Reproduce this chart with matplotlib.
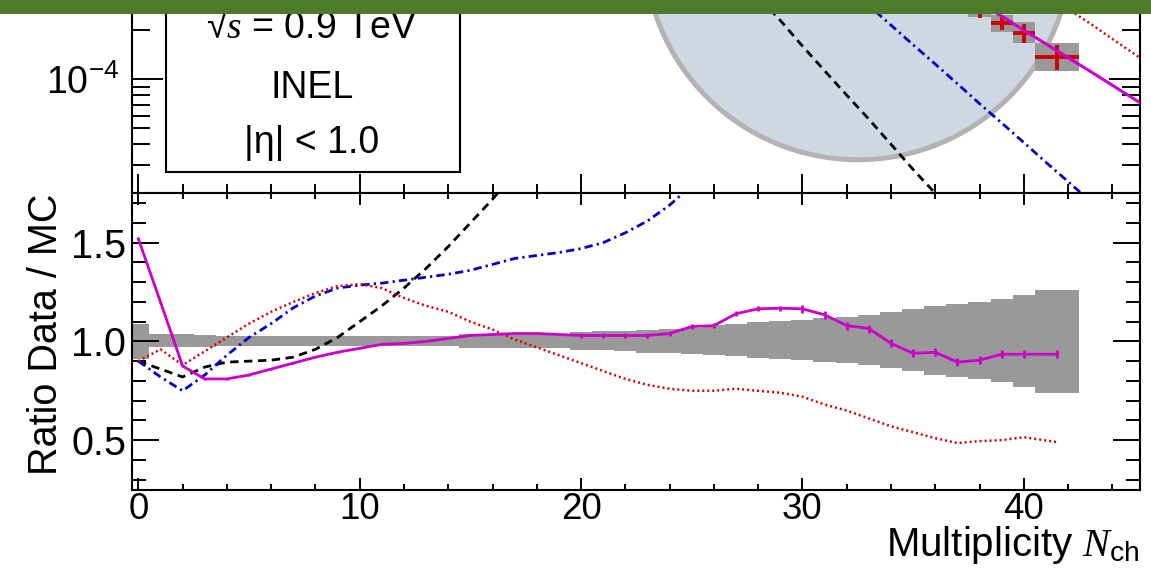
import numpy as np
import matplotlib.pyplot as plt
from matplotlib.patches import Rectangle, Circle
from matplotlib.transforms import IdentityTransform
from matplotlib.ticker import MultipleLocator, LogLocator, FixedLocator, FuncFormatter, NullFormatter

plt.rcParams['font.family'] = ['Liberation Sans', 'DejaVu Sans']
plt.rcParams['mathtext.fontset'] = 'custom'
plt.rcParams['mathtext.rm'] = 'Liberation Sans'
plt.rcParams['mathtext.sf'] = 'Liberation Sans'
plt.rcParams['mathtext.it'] = 'Liberation Serif:italic'

W, H = 1151, 574

# ---- upper panel: P(N_ch), log scale ----
data_n = [38, 39, 40, 41.5]
data_w = [1, 1, 1, 2]
data_val = [2.62e-4, 2.22e-4, 1.92e-4, 1.38e-4]
data_stat = [0.25e-4, 0.22e-4, 0.26e-4, 0.24e-4]
sys_lo = [2.42e-4, 1.96e-4, 1.66e-4, 1.13e-4]
sys_hi = [2.95e-4, 2.48e-4, 2.26e-4, 1.66e-4]

black_n = [27, 28, 29, 30, 31, 32, 33, 34, 35, 36, 37]
black_p = [4.5e-4, 3.2e-4, 2.3e-4, 1.6e-4, 1.13e-4, 8.0e-5, 5.7e-5, 4.0e-5, 2.8e-5, 2.0e-5, 1.4e-5]

blue_n = [31, 32, 33, 34, 35, 36, 37, 38, 39, 40, 41, 42, 43]
blue_p = [4.93e-4, 3.74e-4, 2.84e-4, 2.15e-4, 1.63e-4, 1.24e-4, 9.4e-5, 7.1e-5,
          5.4e-5, 4.1e-5, 3.1e-5, 2.36e-5, 1.79e-5]

red_n = [39, 40, 41, 42, 43, 44, 45, 46]
red_p = [5.2e-4, 4.2e-4, 3.4e-4, 2.7e-4, 2.2e-4, 1.77e-4, 1.43e-4, 1.15e-4]

mag_n = [36, 37, 38, 39, 40, 41, 42, 43, 44, 45, 46]
mag_p = [4.4e-4, 3.6e-4, 2.97e-4, 2.44e-4, 2.0e-4, 1.65e-4, 1.36e-4, 1.12e-4, 9.2e-5, 7.55e-5, 6.2e-5]

# ---- lower panel: ratio data / MC ----
ratio_n = list(range(41)) + [41.5]
ratio_w = [1] * 41 + [2]
band_hi = [1.09, 1.035, 1.035, 1.03, 1.025, 1.025, 1.025, 1.025, 1.025, 1.025,
           1.025, 1.025, 1.025, 1.025, 1.025, 1.038, 1.038, 1.038, 1.038, 1.038,
           1.05, 1.052, 1.055, 1.06, 1.065, 1.07, 1.085, 1.09, 1.098, 1.105,
           1.11, 1.117, 1.123, 1.135, 1.15, 1.165, 1.177, 1.19, 1.20, 1.217,
           1.233, 1.262]
band_lo = [0.91, 0.97, 0.97, 0.972, 0.975, 0.975, 0.975, 0.975, 0.975, 0.975,
           0.975, 0.975, 0.975, 0.975, 0.975, 0.965, 0.965, 0.965, 0.965, 0.965,
           0.955, 0.954, 0.952, 0.942, 0.94, 0.937, 0.93, 0.925, 0.918, 0.912,
           0.908, 0.898, 0.89, 0.878, 0.865, 0.848, 0.832, 0.82, 0.812, 0.793,
           0.77, 0.741]
ratio_mag = [1.52, 1.20, 0.875, 0.81, 0.81, 0.83, 0.86, 0.89, 0.92, 0.945,
             0.965, 0.985, 0.99, 1.0, 1.015, 1.03, 1.035, 1.04, 1.04, 1.035,
             1.03, 1.03, 1.03, 1.03, 1.04, 1.075, 1.08, 1.14, 1.165, 1.168,
             1.165, 1.135, 1.08, 1.065, 0.99, 0.94, 0.945, 0.895, 0.905, 0.935,
             0.935, 0.935]
ratio_err = [0.004] * 20 + [0.012] * 10 + [0.02] * 12
ratio_red = [0.90, 0.96, 0.88, 0.95, 1.02, 1.09, 1.15, 1.20, 1.245, 1.28,
             1.29, 1.27, 1.22, 1.18, 1.15, 1.10, 1.06, 1.01, 0.97, 0.93,
             0.89, 0.85, 0.81, 0.78, 0.76, 0.75, 0.75, 0.76, 0.75, 0.74,
             0.72, 0.68, 0.65, 0.61, 0.57, 0.54, 0.51, 0.485, 0.495, 0.50,
             0.515, 0.49]
black_r_n = list(range(18))
ratio_black = [0.90, 0.86, 0.82, 0.87, 0.895, 0.90, 0.905, 0.92, 0.96, 1.02,
               1.10, 1.18, 1.27, 1.37, 1.48, 1.60, 1.72, 1.85]
blue_r_n = list(range(26))
ratio_blue = [0.90, 0.82, 0.75, 0.83, 0.93, 1.02, 1.09, 1.17, 1.23, 1.27,
              1.285, 1.295, 1.31, 1.325, 1.34, 1.36, 1.39, 1.42, 1.435, 1.45,
              1.47, 1.50, 1.55, 1.61, 1.69, 1.79]

RED = '#dd0000'
BLUE = '#0000cc'
MAG = '#cc00cc'
GREY = '#999999'

fig = plt.figure(figsize=(W / 100, H / 100), dpi=100)
left = 131.7 / W
width = (1140 - 131.7) / W
ax_top = fig.add_axes([left, (H - 193.3) / H, width, (193.3 + 83.7) / H])
ax_bot = fig.add_axes([left, (H - 489.5) / H, width, (489.5 - 193.3) / H])

# upper panel
ax_top.set_yscale('log')
ax_top.set_xlim(-0.3, 45.25)
ax_top.set_ylim(2e-5, 1e-3)

circ = Circle((858, H + 53.75), 213.5, transform=IdentityTransform(),
              facecolor='#cfd8e2', edgecolor='#b3b3b3', lw=3.6, zorder=0.5)
ax_top.add_patch(circ)

ax_top.plot(black_n, black_p, color='black', lw=2, ls=(0, (3, 2)), zorder=2)
ax_top.plot(blue_n, blue_p, color=BLUE, lw=2, ls=(0, (3, 1.5, 0.8, 1.5)), zorder=2)
ax_top.plot(red_n, red_p, color=RED, lw=1.8, ls=(0, (0.8, 1.2)), zorder=2)
ax_top.bar(data_n, np.array(sys_hi) - np.array(sys_lo), bottom=sys_lo, width=data_w,
           color=GREY, lw=0, zorder=3)
ax_top.errorbar(data_n, data_val, xerr=np.array(data_w) / 2, yerr=data_stat, fmt='none',
                ecolor='#cc0000', elinewidth=2.8, capsize=0, zorder=4)
ax_top.plot(mag_n, mag_p, color=MAG, lw=2.2, zorder=5)

ax_top.add_patch(Rectangle((0.0337, 0.078), 0.3256 - 0.0337, 1.0, transform=ax_top.transAxes,
                           facecolor='white', edgecolor='black', lw=1.5, zorder=6))

ax_top.xaxis.set_major_locator(MultipleLocator(10))
ax_top.xaxis.set_minor_locator(MultipleLocator(2))
ax_top.xaxis.set_major_formatter(NullFormatter())
ax_top.yaxis.set_major_locator(FixedLocator([1e-4]))
ax_top.yaxis.set_minor_locator(LogLocator(base=10, subs=np.arange(2, 10)))
ax_top.yaxis.set_minor_formatter(NullFormatter())
ax_top.yaxis.set_major_formatter(FuncFormatter(lambda v, p: r'$\mathregular{10^{%d}}$' % round(np.log10(v))))
ax_top.tick_params(axis='x', which='major', direction='in', top=True, length=14, width=1.4)
ax_top.tick_params(axis='x', which='minor', direction='in', top=True, length=6.5, width=1.4)
ax_top.tick_params(axis='y', which='major', direction='in', right=True, length=22, width=1.4,
                   labelsize=27, pad=9)
ax_top.tick_params(axis='y', which='minor', direction='in', right=True, length=13, width=1.4)

# lower panel
ax_bot.set_xlim(-0.3, 45.25)
ax_bot.set_ylim(0.25, 1.75)
ax_bot.bar(ratio_n, np.array(band_hi) - np.array(band_lo), bottom=band_lo, width=ratio_w,
           color=GREY, lw=0, zorder=1)
ax_bot.plot(black_r_n, ratio_black, color='black', lw=2, ls=(0, (3, 2)), zorder=2)
ax_bot.plot(blue_r_n, ratio_blue, color=BLUE, lw=2, ls=(0, (3, 1.5, 0.8, 1.5)), zorder=2)
ax_bot.plot(ratio_n, ratio_red, color=RED, lw=1.8, ls=(0, (0.8, 1.2)), zorder=2)
ax_bot.errorbar(ratio_n, ratio_mag, yerr=ratio_err, fmt='-', color=MAG, lw=2,
                elinewidth=2, capsize=0, zorder=3)

ax_bot.xaxis.set_major_locator(MultipleLocator(10))
ax_bot.xaxis.set_minor_locator(MultipleLocator(2))
ax_bot.yaxis.set_major_locator(MultipleLocator(0.5))
ax_bot.yaxis.set_minor_locator(MultipleLocator(0.1))
ax_bot.yaxis.set_major_formatter(FuncFormatter(lambda v, p: '%.1f' % v))
ax_bot.tick_params(axis='x', which='major', direction='in', top=True, length=8.5, width=1.4,
                   labelsize=26.5, pad=2)
ax_bot.tick_params(axis='x', which='minor', direction='in', top=True, length=4.5, width=1.4)
ax_bot.tick_params(axis='y', which='major', direction='in', right=True, length=19.5, width=1.4,
                   labelsize=28.5, pad=4)
ax_bot.tick_params(axis='y', which='minor', direction='in', right=True, length=10, width=1.4)

ax_bot.set_ylabel('Ratio Data / MC', fontsize=28.5, loc='top')
ax_bot.yaxis.set_label_coords(-0.066, 1.0)
ax_bot.set_xlabel(r'Multiplicity $N_{\mathrm{ch}}$', fontsize=29, loc='right', va='top')
ax_bot.xaxis.set_label_coords(1.0, -0.118)

for ax in (ax_top, ax_bot):
    for s in ax.spines.values():
        s.set_linewidth(1.5)

# text box
def fx(x):
    return x / W

def fy(y):
    return 1 - y / H

fig.text(fx(312), fy(38), '\u221a$s$ = 0.9 TeV', ha='center', va='baseline', fontsize=27)
fig.text(fx(312), fy(98), 'INEL', ha='center', va='baseline', fontsize=27)
fig.text(fx(312), fy(153), '|\u03b7| < 1.0', ha='center', va='baseline', fontsize=27)

# green banner of the slide
fig.add_artist(Rectangle((0, fy(13.5)), 1, 0.05, transform=fig.transFigure,
                         facecolor='#4c7b2b', edgecolor='none', zorder=10))

fig.savefig('out.png', dpi=100)
